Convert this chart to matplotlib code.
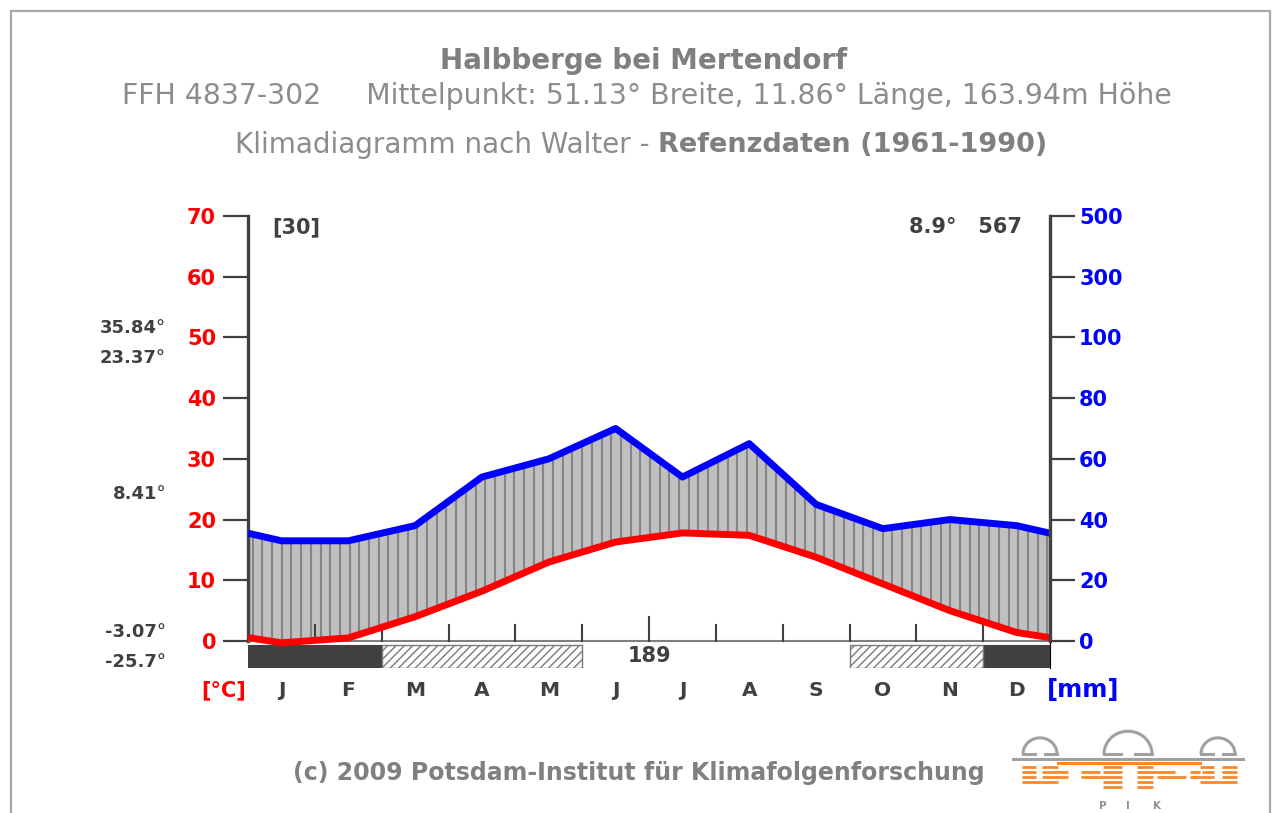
import numpy as np
import matplotlib
matplotlib.use("Agg")
import matplotlib.pyplot as plt
from matplotlib.transforms import blended_transform_factory
from matplotlib.patches import Rectangle, Arc

# ---------------- data ----------------
months = ["J", "F", "M", "A", "M", "J", "J", "A", "S", "O", "N", "D"]
temp_c = [-0.3, 0.5, 4.0, 8.2, 13.0, 16.3, 17.8, 17.4, 13.8, 9.4, 5.0, 1.4]
precip_mm = [33, 33, 38, 54, 60, 70, 54, 65, 45, 37, 40, 38]
# frost band per month: 2 = frost month (dark), 1 = possible frost (hatched), 0 = frost free
frost = [2, 2, 1, 1, 1, 0, 0, 0, 0, 1, 1, 2]
temp_ticks = [0, 10, 20, 30, 40, 50, 60, 70]
precip_tick_labels = ["0", "20", "40", "60", "80", "100", "300", "500"]
side_values = ["35.84°", "23.37°", "8.41°", "-3.07°", "-25.7°"]
n_years = "[30]"
mean_temp = "8.9°"
sum_precip = "567"
frost_free_days = "189"

W, H = 1272, 813
DPI = 100
fig = plt.figure(figsize=(W / DPI, H / DPI), dpi=DPI)
fig.patch.set_facecolor("white")

def fx(px):
    return px / W

def fy(py):
    return 1 - py / H

DARK = "#404040"
GRAY = "#808080"

# decoration axes in pixel coords
deco = fig.add_axes([0, 0, 1, 1])
deco.set_xlim(0, W)
deco.set_ylim(H, 0)
deco.axis("off")
# frame
deco.plot([11, 11, 1270, 1270], [H + 5, 11, 11, H + 5], color="#a8a8a8", lw=1.6, solid_joinstyle="miter")

# main axes
y0 = -4.45
ax = fig.add_axes([fx(248), fy(668), fx(1050) - fx(248), fy(216) - fy(668)])
ax.set_facecolor("none")
ax.set_xlim(0, 12)
ax.set_ylim(y0, 70)


def precip_to_axis(p):
    p = np.asarray(p, dtype=float)
    return np.where(p <= 100, p / 2.0, 50 + (p - 100) / 20.0)

t = np.array(temp_c, dtype=float)
p = precip_to_axis(precip_mm)
xm = np.arange(12) + 0.5
# wrap around at the year boundary
x_full = np.concatenate([[0], xm, [12]])
t_full = np.concatenate([[(t[0] + t[-1]) / 2], t, [(t[0] + t[-1]) / 2]])
p_full = np.concatenate([[(p[0] + p[-1]) / 2], p, [(p[0] + p[-1]) / 2]])

ax.fill_between(x_full, t_full, p_full, where=p_full >= t_full, color="#c0c0c0", lw=0, zorder=1)
xs = np.arange(0.07, 12, 0.145)
ax.vlines(xs, np.interp(xs, x_full, t_full), np.interp(xs, x_full, p_full), color="#858585", lw=1.5, zorder=2)

# baseline and month ticks
ax.plot([0, 12], [0, 0], color=GRAY, lw=1.5, zorder=3)
for i in range(1, 12):
    h = 4.0 if i == 6 else 2.6
    ax.plot([i, i], [0, h], color=DARK, lw=1.5, zorder=3)

ax.plot(x_full, p_full, color="#0000ff", lw=5, solid_capstyle="butt", solid_joinstyle="round", zorder=5)
ax.plot(x_full, t_full, color="#ff0000", lw=5, solid_capstyle="butt", solid_joinstyle="round", zorder=6)

# frost band
band_bottom, band_top = y0, -0.66
for i, f in enumerate(frost):
    if f == 2:
        ax.add_patch(Rectangle((i, band_bottom), 1, band_top - band_bottom, facecolor=DARK, edgecolor=DARK, lw=0.8, zorder=4))
    elif f == 1:
        ax.add_patch(Rectangle((i, band_bottom), 1, band_top - band_bottom, facecolor="white", edgecolor="#7a7a7a", hatch="////", lw=0, zorder=4))
# outline hatched groups
i = 0
while i < 12:
    if frost[i] == 1:
        j = i
        while j < 12 and frost[j] == 1:
            j += 1
        ax.add_patch(Rectangle((i, band_bottom), j - i, band_top - band_bottom, fill=False, edgecolor="#7a7a7a", lw=1.0, zorder=4.5))
        i = j
    else:
        i += 1
ax.text(6, (band_bottom + band_top) / 2, frost_free_days, ha="center", va="center", fontsize=15, fontweight="bold", color=DARK)

for s in ["top", "bottom"]:
    ax.spines[s].set_visible(False)
ax.spines["left"].set_color(DARK)
ax.spines["left"].set_linewidth(2.4)
ax.spines["left"].set_bounds(0, 70)
ax.set_xticks([])
ax.set_yticks(temp_ticks)
ax.set_yticklabels([str(v) for v in temp_ticks])
ax.tick_params(axis="y", length=18, width=1.6, color=DARK, pad=5, labelsize=15, labelcolor="#ff0000")
for lab in ax.get_yticklabels():
    lab.set_fontweight("bold")

ax2 = ax.twinx()
ax2.set_ylim(y0, 70)
ax2.set_facecolor("none")
for s in ["top", "bottom", "left"]:
    ax2.spines[s].set_visible(False)
ax2.spines["right"].set_color(DARK)
ax2.spines["right"].set_linewidth(2.4)
ax2.spines["right"].set_bounds(0, 70)
ax2.set_yticks(temp_ticks)
ax2.set_yticklabels(precip_tick_labels)
ax2.tick_params(axis="y", length=18, width=1.6, color=DARK, pad=3, labelsize=15, labelcolor="#0000ff")
for lab in ax2.get_yticklabels():
    lab.set_fontweight("bold")

# month labels
tr = blended_transform_factory(ax.transData, fig.transFigure)
for k, m in enumerate(months):
    ax.text(k + 0.5, fy(690), m, transform=tr, ha="center", va="center", fontsize=14.5, fontweight="bold", color=DARK)
fig.text(fx(246), fy(690), "[°C]", ha="right", va="center", fontsize=15, fontweight="bold", color="#ff0000")
fig.text(fx(1047), fy(690), "[mm]", ha="left", va="center", fontsize=17.5, fontweight="bold", color="#0000ff")

# side values (left), placed in figure pixels
side_y = [328, 358, 494, 632, 662]
for v, yy in zip(side_values, side_y):
    fig.text(fx(166), fy(yy), v, ha="right", va="center", fontsize=13, fontweight="bold", color=DARK)

fig.text(fx(272), fy(227), n_years, ha="left", va="center", fontsize=15, fontweight="bold", color=DARK)
fig.text(fx(1022), fy(227), mean_temp + "   " + sum_precip, ha="right", va="center", fontsize=15, fontweight="bold", color=DARK)

# header
fig.text(fx(644), fy(61), "Halbberge bei Mertendorf", ha="center", va="center", fontsize=20, fontweight="bold", color="#7f7f7f")
fig.text(fx(647), fy(96), "FFH 4837-302     Mittelpunkt: 51.13° Breite, 11.86° Länge, 163.94m Höhe",
         ha="center", va="center", fontsize=20.4, color="#8c8c8c")
t1 = fig.text(0, fy(145), "Klimadiagramm nach Walter - ", ha="left", va="center", fontsize=20, color="#8c8c8c")
t2 = fig.text(0, fy(145), "Refenzdaten (1961-1990)", ha="left", va="center", fontsize=19.5, fontweight="bold", color="#7f7f7f")
fig.canvas.draw()
r = fig.canvas.get_renderer()
w1 = t1.get_window_extent(r).width
w2 = t2.get_window_extent(r).width
start = 641 - (w1 + w2) / 2
t1.set_x(fx(start))
t2.set_x(fx(start + w1))

# footer
fig.text(fx(639), fy(773), "(c) 2009 Potsdam-Institut für Klimafolgenforschung", ha="center", va="center",
         fontsize=17, fontweight="bold", color="#808080")

# PIK logo (decoration)
LG = "#a0a0a0"
OR = "#f7892c"
deco.plot([1013, 1243], [759, 759], color=LG, lw=2.2)
for cx, rr in [(1040, 17), (1128, 24), (1218, 17)]:
    deco.add_patch(Arc((cx, 754), 2 * rr, 2 * rr * 0.95, theta1=180, theta2=360, color=LG, lw=2.2))
    deco.plot([cx - rr, cx - rr * 0.3], [754, 754], color=LG, lw=2.2)
    deco.plot([cx + rr * 0.3, cx + rr], [754, 754], color=LG, lw=2.2)
deco.plot([1058, 1200], [763, 763], color=OR, lw=2.2)
rows = [
    (767, [(1022, 1036), (1042, 1058), (1103, 1122), (1137, 1153), (1200, 1214), (1222, 1237)]),
    (772, [(1022, 1036), (1042, 1068), (1081, 1100), (1103, 1122), (1137, 1175), (1190, 1200), (1202, 1214), (1222, 1237)]),
    (777, [(1022, 1036), (1042, 1068), (1081, 1122), (1137, 1153), (1157, 1186), (1190, 1214), (1222, 1237)]),
    (782, [(1022, 1058), (1103, 1122), (1137, 1153), (1200, 1237)]),
    (787, [(1103, 1122), (1137, 1153)]),
]
for yy, segs in rows:
    for a, b in segs:
        deco.plot([a, b], [yy, yy], color=OR, lw=2.0, solid_capstyle="butt")
for xx, ch in [(1103, "P"), (1128, "I"), (1157, "K")]:
    deco.text(xx, 806, ch, ha="center", va="center", fontsize=7.5, fontweight="bold", color="#909090")

fig.savefig("out.png", dpi=DPI, facecolor="white")
